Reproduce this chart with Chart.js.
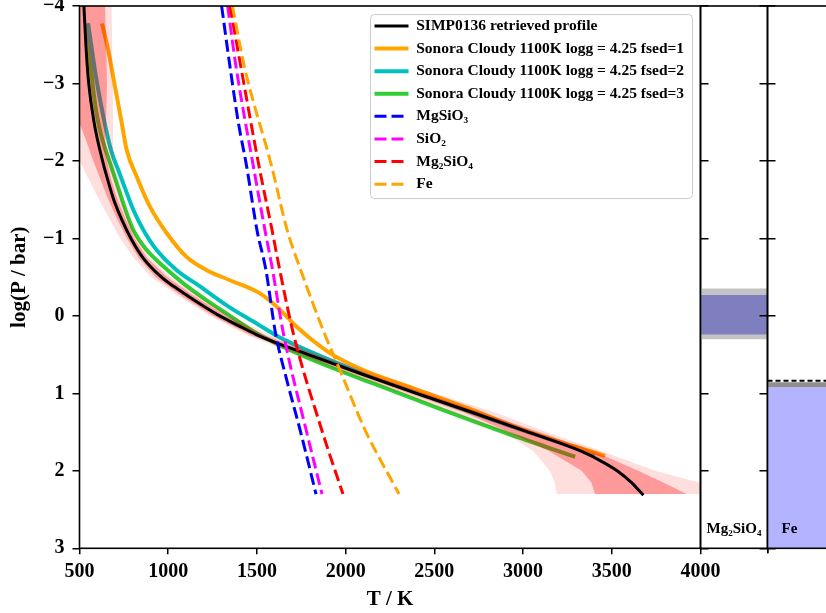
<!DOCTYPE html>
<html><head><meta charset="utf-8">
<script src="https://cdn.jsdelivr.net/npm/chart.js@4.4.1/dist/chart.umd.min.js"></script>
<style>
html,body{margin:0;padding:0;background:#fff;overflow:hidden;width:826px;height:613px}
#wrap{position:relative;width:826px;height:613px;overflow:hidden;background:#fff}
canvas{position:absolute;left:0;top:0}
</style></head><body>
<div id="wrap">
<canvas id="main" width="826" height="613"></canvas>
<canvas id="mg" width="826" height="613"></canvas>
<canvas id="fe" width="900" height="613"></canvas>
</div>
<script>
// ---------- data ----------
const tTicks = [500, 1000, 1500, 2000, 2500, 3000, 3500, 4000];
const pTicks = [-4, -3, -2, -1, 0, 1, 2, 3];

const seriesLabels = [
  'SIMP0136 retrieved profile',
  'Sonora Cloudy 1100K logg = 4.25 fsed=1',
  'Sonora Cloudy 1100K logg = 4.25 fsed=2',
  'Sonora Cloudy 1100K logg = 4.25 fsed=3',
  'MgSiO\u2083', 'SiO\u2082', 'Mg\u2082SiO\u2084', 'Fe'
];

const simpP = [-4, -3.5, -3, -2.5, -2, -1.75, -1.5, -1.25, -1, -0.75, -0.5, -0.375, -0.25, -0.125, 0, 0.125, 0.25, 0.5, 0.75, 1, 1.25, 1.5, 1.75, 1.9, 2.0, 2.15, 2.3];
const simpT = [525, 536, 552, 582, 630, 660, 693, 737, 790, 858, 962, 1035, 1115, 1200, 1290, 1395, 1505, 1790, 2090, 2400, 2720, 3030, 3330, 3460, 3530, 3610, 3672];

const bandP  = [-4, -3.5, -3, -2.5, -2.25, -2, -1.75, -1.5, -1.25, -1, -0.75, -0.5, -0.25, 0, 0.25, 0.5, 0.75, 1, 1.25, 1.5, 1.75, 2, 2.15, 2.3];
const sig1Lo = [430, 440, 455, 497, 540, 578, 620, 663, 712, 768, 833, 930, 1080, 1255, 1465, 1750, 2050, 2355, 2670, 2920, 3150, 3330, 3385, 3405];
const sig1Hi = [644, 650, 655, 650, 645, 655, 680, 715, 760, 810, 880, 995, 1150, 1325, 1545, 1830, 2130, 2445, 2770, 3090, 3400, 3650, 3790, 3922];
const sig2Lo = [380, 390, 405, 430, 460, 500, 555, 610, 670, 730, 805, 905, 1060, 1235, 1445, 1725, 2020, 2320, 2610, 2890, 3060, 3150, 3178, 3190];
const sig2Hi = [681, 684, 688, 690, 688, 692, 708, 738, 778, 825, 895, 1015, 1175, 1355, 1575, 1860, 2170, 2500, 2850, 3130, 3450, 3745, 3990, 4250];

const fsed1T = [629, 662, 700, 738, 766, 822, 897, 991, 1104, 1217, 1348, 1517, 1630, 1724, 1912, 2100, 2381, 2701, 3001, 3452];
const fsed1P = [-3.75, -3.43, -2.96, -2.49, -2.14, -1.8, -1.41, -1.07, -0.76, -0.59, -0.46, -0.29, -0.08, 0.14, 0.48, 0.7, 0.935, 1.2, 1.47, 1.8];

const fsed2T = [550, 566, 585, 607, 632, 660, 683, 719, 758, 803, 860, 935, 1048, 1179, 1340, 1499, 1630, 1912, 2200, 2532, 2900, 3395];
const fsed2P = [-3.75, -3.5, -3.2, -2.9, -2.6, -2.3, -2.1, -1.88, -1.64, -1.37, -1.11, -0.85, -0.59, -0.38, -0.12, 0.1, 0.28, 0.57, 0.83, 1.1, 1.4, 1.78];

const fsed3T = [548, 565, 590, 620, 653, 690, 723, 756, 803, 879, 972, 1085, 1217, 1348, 1480, 1630, 1912, 2200, 2532, 2908, 3283];
const fsed3P = [-3.75, -3.2, -2.7, -2.35, -2.1, -1.85, -1.62, -1.39, -1.11, -0.85, -0.64, -0.42, -0.2, 0.0, 0.2, 0.38, 0.66, 0.91, 1.2, 1.515, 1.81];

const mgsio3T = [1301, 1348, 1395, 1442, 1500, 1550, 1605, 1665, 1743, 1833];
const mgsio3P = [-4, -3.22, -2.5, -1.93, -1.11, -0.6, 0.225, 0.8, 1.47, 2.3];
const sio2T = [1335, 1382, 1480, 1545, 1585, 1649, 1777, 1867];
const sio2P = [-4, -3.22, -1.93, -1.11, -0.635, 0.225, 1.47, 2.3];
const mg2sio4T = [1348, 1409, 1512, 1585, 1625, 1705, 1865, 1985];
const mg2sio4P = [-4, -3.22, -1.93, -1.11, -0.635, 0.225, 1.47, 2.3];
const feT = [1362, 1429, 1583, 1670, 1740, 1880, 1968, 2109, 2301];
const feP = [-4, -3.22, -1.93, -1.11, -0.635, 0.225, 0.7, 1.47, 2.3];

// cloud panels (log P ranges)
const mgCloud = [-0.27, 0.24];
const mgCloudErr = [-0.355, 0.30];
const feCloud = [0.92, 3];
const feCloudErr = [0.858, 0.92];
const feCloudTop = 0.837;
const panelNames = ['Mg\u2082SiO\u2084', 'Fe'];

// ---------- helpers ----------
const FONT = "'Liberation Serif','Times New Roman','DejaVu Serif',serif";
Chart.defaults.font.family = FONT;
Chart.defaults.font.weight = 'bold';
Chart.defaults.color = '#000';

const pts = (T, P) => T.map((t, i) => ({x: t, y: P[i]}));
const band = (lo, hi, P) => pts(lo, P).concat(pts(hi, P).reverse());
const rect = (r) => [{x: 0, y: r[0]}, {x: 1, y: r[0]}, {x: 1, y: r[1]}, {x: 0, y: r[1]}];
const yTickFmt = (v) => (v < 0 ? '\u2212' + Math.abs(v) : String(v));

const framePlugin = {
  id: 'frame',
  afterDatasetsDraw(chart) {
    const {ctx, chartArea: a} = chart;
    ctx.save();
    ctx.strokeStyle = '#000';
    ctx.lineWidth = 1.6;
    ctx.strokeRect(a.left, a.top, a.right - a.left, a.bottom - a.top);
    ctx.restore();
  }
};

const legendBoxPlugin = {
  id: 'legendBox',
  afterLayout(chart) {
    const lg = chart.legend;
    if (!lg) return;
    lg.left = 367.4; lg.top = 11.1; lg.width = 330; lg.height = 300;
    lg.right = lg.left + lg.width; lg.bottom = lg.top + lg.height;
  },
  beforeDraw(chart) {
    const ctx = chart.ctx;
    ctx.save();
    ctx.beginPath();
    if (ctx.roundRect) ctx.roundRect(370.5, 14.5, 322, 184, 4); else ctx.rect(370.5, 14.5, 322, 184);
    ctx.fillStyle = 'rgba(255,255,255,0.8)';
    ctx.fill();
    ctx.strokeStyle = '#cccccc';
    ctx.lineWidth = 1;
    ctx.stroke();
    ctx.restore();
  }
};

const panelLabelPlugin = {
  id: 'panelLabel',
  afterDatasetsDraw(chart, args, opts) {
    const a = chart.chartArea, ctx = chart.ctx;
    ctx.save();
    ctx.font = 'bold 15px ' + FONT;
    ctx.fillStyle = '#000';
    ctx.textBaseline = 'middle';
    let x;
    if (opts.align === 'center') { ctx.textAlign = 'center'; x = (a.left + a.right) / 2; }
    else { ctx.textAlign = 'left'; x = a.left + (opts.dx || 0); }
    ctx.fillText(opts.text, x, a.bottom - 19);
    ctx.restore();
  }
};

const common = {
  responsive: false, animation: false, events: [], devicePixelRatio: 1,
  elements: {point: {radius: 0, hoverRadius: 0}},
};

// ---------- main chart ----------
const lineDs = (label, data, color, width, order, dash) => ({
  label, data, borderColor: color, backgroundColor: color, borderWidth: width,
  borderDash: dash || [], order, cubicInterpolationMode: 'monotone', fill: false,
  borderCapStyle: dash ? 'butt' : 'square'
});

new Chart(document.getElementById('main'), {
  type: 'line',
  data: {
    datasets: [
      lineDs(seriesLabels[0], pts(simpT, simpP), '#000000', 3, 5),
      lineDs(seriesLabels[1], pts(fsed1T, fsed1P), '#ffa500', 4, 8),
      lineDs(seriesLabels[2], pts(fsed2T, fsed2P), '#00bfbf', 4, 9),
      lineDs(seriesLabels[3], pts(fsed3T, fsed3P), '#32cd32', 4, 10),
      lineDs(seriesLabels[4], pts(mgsio3T, mgsio3P), '#0000ff', 3, 4, [12, 5]),
      lineDs(seriesLabels[5], pts(sio2T, sio2P), '#ff00ff', 3, 3, [12, 5]),
      lineDs(seriesLabels[6], pts(mg2sio4T, mg2sio4P), '#ff0000', 3, 2, [12, 5]),
      lineDs(seriesLabels[7], pts(feT, feP), '#ffa500', 3, 1, [12, 5]),
      {data: band(sig1Lo, sig1Hi, bandP), fill: 'shape', backgroundColor: 'rgba(255,0,0,0.31)', borderColor: 'rgba(0,0,0,0)', borderWidth: 0, tension: 0, order: 6},
      {data: band(sig2Lo, sig2Hi, bandP), fill: 'shape', backgroundColor: 'rgba(255,0,0,0.13)', borderColor: 'rgba(0,0,0,0)', borderWidth: 0, tension: 0, order: 7}
    ]
  },
  options: Object.assign({}, common, {
    layout: {padding: {left: 0, top: 6, right: 125.5, bottom: 0}},
    plugins: {
      tooltip: {enabled: false},
      legend: {
        position: 'chartArea', align: 'start',
        labels: {
          usePointStyle: true, pointStyle: 'line', pointStyleWidth: 34,
          padding: 7.1, color: '#000',
          font: {size: 15.5, weight: 'bold', family: FONT},
          generateLabels: (chart) => chart.data.datasets.map((ds, i) => ds.label ? {
            text: ds.label, strokeStyle: ds.borderColor, fillStyle: ds.borderColor,
            lineWidth: ds.borderWidth, lineDash: ds.borderDash || [], lineCap: 'butt',
            pointStyle: 'line', datasetIndex: i, hidden: false, fontColor: '#000'
          } : null).filter(Boolean)
        }
      }
    },
    scales: {
      x: {
        type: 'linear', position: 'bottom', min: 500, max: 4000,
        afterBuildTicks: (s) => { s.ticks = tTicks.map(v => ({value: v})); },
        ticks: {font: {size: 20, weight: 'bold'}, padding: 5.5, maxRotation: 0, autoSkip: false, callback: (v) => String(v)},
        grid: {drawOnChartArea: false, drawTicks: true, tickLength: 6, color: '#000', lineWidth: 1.5},
        border: {display: false},
        title: {display: true, text: 'T / K', font: {size: 21, weight: 'bold'}, padding: {top: 0, bottom: 1}},
        afterFit: (s) => { s.height = 64.7; s.paddingLeft = 0; s.paddingRight = 0; }
      },
      y: {
        type: 'linear', position: 'left', reverse: true, min: -4, max: 3,
        afterBuildTicks: (s) => { s.ticks = pTicks.map(v => ({value: v})); },
        ticks: {font: {size: 20, weight: 'bold'}, padding: 8, callback: yTickFmt},
        grid: {drawOnChartArea: false, drawTicks: true, tickLength: 7, color: '#000', lineWidth: 1.5},
        border: {display: false},
        title: {display: true, text: 'log(P / bar)', font: {size: 21, weight: 'bold'}, padding: {top: 7, bottom: 0}},
        afterFit: (s) => { s.width = 79.5; s.paddingTop = 0; s.paddingBottom = 0; }
      },
      y2: {
        type: 'linear', position: 'right', reverse: true, min: -4, max: 3,
        afterBuildTicks: (s) => { s.ticks = pTicks.map(v => ({value: v})); },
        ticks: {display: false},
        grid: {drawOnChartArea: false, drawTicks: true, tickLength: 8, color: '#000', lineWidth: 1.5},
        border: {display: false},
        afterFit: (s) => { s.width = 0; s.paddingTop = 0; s.paddingBottom = 0; }
      }
    }
  }),
  plugins: [legendBoxPlugin, framePlugin]
});

// ---------- cloud panels ----------
const panelScales = (yPos, xTickVals) => ({
  x: {
    type: 'linear', position: 'bottom', min: 0, max: 1,
    afterBuildTicks: (s) => { s.ticks = xTickVals.map(v => ({value: v})); },
    ticks: {display: false},
    grid: {drawOnChartArea: false, drawTicks: true, tickLength: 5, color: '#000', lineWidth: 1.5},
    border: {display: false},
    afterFit: (s) => { s.height = 64.7; s.paddingLeft = 0; s.paddingRight = 0; }
  },
  y: {
    type: 'linear', position: yPos, reverse: true, min: -4, max: 3,
    afterBuildTicks: (s) => { s.ticks = pTicks.map(v => ({value: v})); },
    ticks: {display: false},
    grid: {drawOnChartArea: false, drawTicks: true, tickLength: 8, color: '#000', lineWidth: 1.5},
    border: {display: false},
    afterFit: (s) => { s.width = 0; s.paddingTop = 0; s.paddingBottom = 0; }
  }
});

new Chart(document.getElementById('mg'), {
  type: 'line',
  data: {
    datasets: [
      {data: rect(mgCloudErr), fill: 'shape', backgroundColor: '#c4c4c4', borderColor: 'rgba(0,0,0,0)', borderWidth: 0, tension: 0, order: 2},
      {data: rect(mgCloud), fill: 'shape', backgroundColor: '#7f7fbf', borderColor: 'rgba(0,0,0,0)', borderWidth: 0, tension: 0, order: 1}
    ]
  },
  options: Object.assign({}, common, {
    layout: {padding: {left: 700.5, top: 6, right: 58.5, bottom: 0}},
    plugins: {legend: {display: false}, tooltip: {enabled: false}, panelLabel: {text: panelNames[0], align: 'center'}},
    scales: panelScales('right', [1])
  }),
  plugins: [framePlugin, panelLabelPlugin]
});

new Chart(document.getElementById('fe'), {
  type: 'line',
  data: {
    datasets: [
      {data: rect(feCloud), fill: 'shape', backgroundColor: '#b3b3ff', borderColor: 'rgba(0,0,0,0)', borderWidth: 0, tension: 0, order: 3},
      {data: rect(feCloudErr), fill: 'shape', backgroundColor: '#8f8f8f', borderColor: 'rgba(0,0,0,0)', borderWidth: 0, tension: 0, order: 2},
      {data: [{x: 0, y: feCloudTop}, {x: 1, y: feCloudTop}], borderColor: '#000', borderWidth: 2, borderDash: [5, 3], fill: false, tension: 0, order: 1}
    ]
  },
  options: Object.assign({}, common, {
    layout: {padding: {left: 767.5, top: 6, right: 65.5, bottom: 0}},
    plugins: {legend: {display: false}, tooltip: {enabled: false}, panelLabel: {text: panelNames[1], align: 'left', dx: 14}},
    scales: panelScales('left', [0])
  }),
  plugins: [framePlugin, panelLabelPlugin]
});
</script>
</body></html>
